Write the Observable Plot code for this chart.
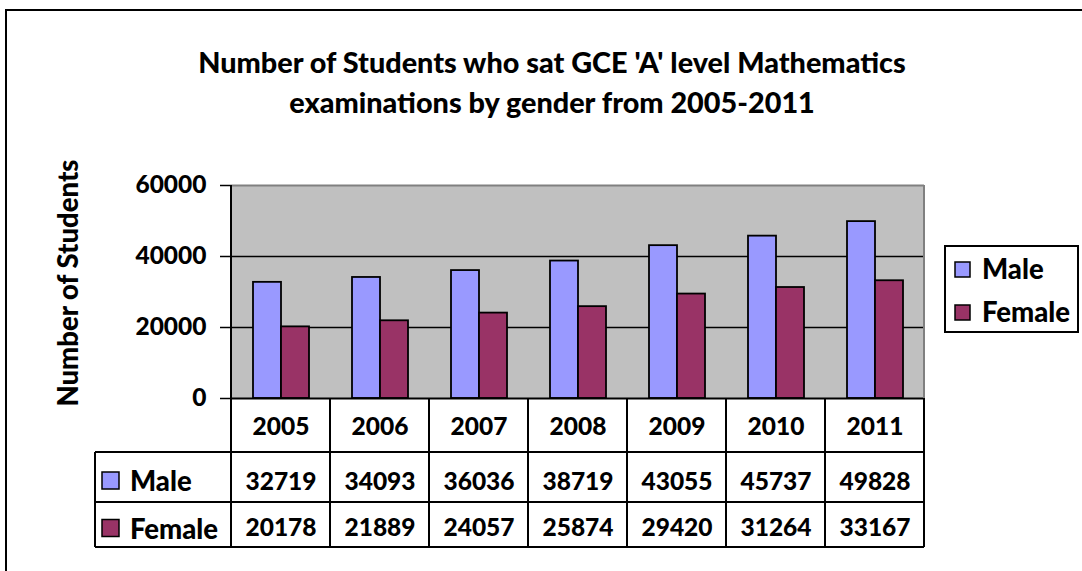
<!DOCTYPE html>
<html><head><meta charset="utf-8">
<script src="https://cdn.jsdelivr.net/npm/d3@7"></script>
<script src="https://cdn.jsdelivr.net/npm/@observablehq/plot@0.6"></script>
<style>
html,body{margin:0;padding:0;background:#fff;overflow:hidden;width:1082px;height:571px;}
#frame{position:absolute;left:5px;top:9px;width:1200px;height:700px;border:2px solid #000;}
#title{position:absolute;left:0;top:42px;width:1104px;text-align:center;font-family:Lato,sans-serif;font-weight:900;font-size:28.8px;line-height:40px;color:#000;}
#chart{position:absolute;left:0;top:0;}
</style></head><body>
<div id="frame"></div>
<div id="title">Number of Students who sat GCE 'A' level Mathematics<br>examinations by gender from 2005-2011</div>
<div id="chart"></div>
<script>
const years = ["2005","2006","2007","2008","2009","2010","2011"];
const genders = ["Male","Female"];
const male = [32719,34093,36036,38719,43055,45737,49828];
const female = [20178,21889,24057,25874,29420,31264,33167];
const fills = ["#9999FF","#993366"];
const yTicks = [0,20000,40000,60000];
const yLabel = "Number of Students";

const rows = years.flatMap((year,i)=>[
  {year, gender:"Male", value: male[i]},
  {year, gender:"Female", value: female[i]}
]);

const FONT = "Lato, 'DejaVu Sans', sans-serif";
const W = 900;
const fs = 24.5;     // digits
const fsw = 27.5;    // words

const plot = Plot.plot({
  width:1082, height:571,
  marginLeft:230, marginRight:157, marginTop:185, marginBottom:173,
  fx:{domain:years, padding:0, axis:null, round:true},
  x:{domain:genders, paddingInner:0, paddingOuter:0.71, axis:null},
  y:{domain:[0,60000], axis:null},
  color:{domain:genders, range:fills},
  style:{fontFamily:FONT, fontWeight:W, fontSize:fs+"px", color:"#000", background:"transparent", overflow:"visible"},
  marks:[
    Plot.ruleY([20000,40000], {stroke:"#000", strokeWidth:1.5}),
    Plot.ruleY([60000], {stroke:"#808080", strokeWidth:2}),
    Plot.barY(rows, {fx:"year", x:"gender", y:"value", fill:"gender", stroke:"#000", strokeWidth:1.8}),
    Plot.ruleY([0], {stroke:"#000", strokeWidth:2}),
    Plot.axisY({ticks:yTicks, tickSize:11, tickPadding:14, tickFormat:d=>String(d), label:null, fontSize:fs, fontWeight:W, strokeWidth:1.5, stroke:"#000"}),
    Plot.text(years, {fx:d=>d, text:d=>d, frameAnchor:"bottom", dy:36, fontSize:fs, fontWeight:W}),
    Plot.text(rows.filter(d=>d.gender==="Male"), {fx:"year", text:d=>String(d.value), frameAnchor:"bottom", dy:91, fontSize:fs, fontWeight:W}),
    Plot.text(rows.filter(d=>d.gender==="Female"), {fx:"year", text:d=>String(d.value), frameAnchor:"bottom", dy:137, fontSize:fs, fontWeight:W})
  ]
});
document.getElementById("chart").appendChild(plot);

const svg = d3.select(plot);
const fx = plot.scale("fx");
const y = plot.scale("y");
const left = fx.apply(years[0]);
const right = fx.apply(years[years.length-1]) + fx.bandwidth;
const yTop = y.apply(60000), yZero = y.apply(0);

svg.insert("rect", ":first-child").attr("x",left).attr("y",yTop).attr("width",right-left).attr("height",yZero-yTop).attr("fill","#C0C0C0");

const rowY = [yZero + 54, yZero + 104, yZero + 149];
const labelLeft = 95;
const g = svg.append("g").attr("stroke","#000").attr("stroke-width",2);
g.append("line").attr("x1",right).attr("x2",right).attr("y1",yTop).attr("y2",yZero).attr("stroke","#808080");
const bounds = years.map(v=>fx.apply(v)).concat([right]);
bounds.forEach((bx,i)=>{
  g.append("line").attr("x1",bx).attr("x2",bx).attr("y1", i===0 ? yTop : yZero).attr("y2",rowY[2]);
});
g.append("line").attr("x1",labelLeft).attr("x2",labelLeft).attr("y1",rowY[0]).attr("y2",rowY[2]);
rowY.forEach(ry=>g.append("line").attr("x1",labelLeft).attr("x2",right).attr("y1",ry).attr("y2",ry));

const color = plot.scale("color");
const tg = svg.append("g").attr("font-family",FONT).attr("font-weight",W).attr("font-size",fsw).attr("text-anchor","start");
genders.forEach((gname,i)=>{
  const cy = (rowY[i] + rowY[i+1]) / 2 + 4;
  tg.append("rect").attr("x",102).attr("y",cy-9).attr("width",17).attr("height",17)
    .attr("fill",color.apply(gname)).attr("stroke","#000").attr("stroke-width",1.5);
  tg.append("text").attr("x",130).attr("y",cy+10).text(gname);
});

const lg = svg.append("g").attr("font-family",FONT).attr("font-weight",W).attr("font-size",fsw).attr("text-anchor","start");
lg.append("rect").attr("x",945).attr("y",246).attr("width",133).attr("height",86).attr("fill","#fff").attr("stroke","#000").attr("stroke-width",2);
genders.forEach((gname,i)=>{
  const sy = 262 + i*43;
  lg.append("rect").attr("x",955).attr("y",sy).attr("width",15).attr("height",15)
    .attr("fill",color.apply(gname)).attr("stroke","#000").attr("stroke-width",1.5);
  lg.append("text").attr("x",982).attr("y",sy+17).text(gname);
});

svg.append("text").attr("transform",`translate(78,283) rotate(-90)`).attr("text-anchor","middle")
  .attr("font-family",FONT).attr("font-weight",W).attr("font-size",fsw).text(yLabel);
</script>
</body></html>
